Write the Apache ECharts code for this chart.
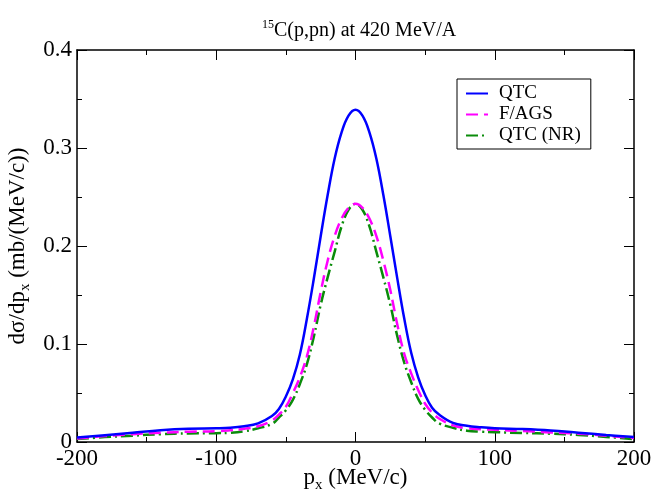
<!DOCTYPE html>
<html><head><meta charset="utf-8">
<script src="https://cdn.jsdelivr.net/npm/echarts@6/dist/echarts.min.js"></script>
<style>html,body{margin:0;padding:0;background:#fff}#c{width:653px;height:495px}</style>
</head><body><div id="c"></div>
<script>
const px = [-200,-180,-160,-140,-120,-100,-90,-80,-70,-60,-55,-50,-45,-40,-35,-30,-25,-20,-15,-10,-5,0,5,10,15,20,25,30,35,40,45,50,55,60,70,80,90,100,120,140,160,180,200];
const qtc = [0.0045,0.007,0.0095,0.012,0.0135,0.014,0.0145,0.016,0.019,0.0265,0.0337,0.0465,0.064,0.089,0.125,0.166,0.21,0.252,0.289,0.316,0.333,0.339,0.333,0.316,0.289,0.252,0.21,0.167,0.126,0.091,0.066,0.048,0.035,0.028,0.0195,0.0165,0.015,0.014,0.0132,0.0118,0.0095,0.0072,0.005];
const fags = [0.0035,0.006,0.008,0.0095,0.0105,0.011,0.012,0.0135,0.016,0.022,0.028,0.036,0.05,0.066,0.087,0.117,0.153,0.185,0.21,0.228,0.239,0.243,0.239,0.228,0.21,0.185,0.155,0.12,0.09,0.07,0.053,0.039,0.03,0.024,0.017,0.014,0.013,0.0124,0.0112,0.0098,0.0085,0.0065,0.004];
const qtcNR = [0.003,0.005,0.0065,0.008,0.0088,0.009,0.0095,0.011,0.014,0.0185,0.025,0.0323,0.043,0.059,0.079,0.107,0.14,0.168,0.194,0.22,0.237,0.243,0.237,0.22,0.194,0.168,0.14,0.108,0.081,0.061,0.044,0.033,0.025,0.019,0.0145,0.0115,0.0105,0.010,0.0092,0.0085,0.0072,0.0052,0.003];
const xTicks = [-200,-100,0,100,200];
const yTicks = [0,0.1,0.2,0.3,0.4];

const serif = '"Liberation Serif","Times New Roman",serif';
const pair = (ys) => px.map((x,i)=>[x, ys[i]]);
const chart = echarts.init(document.getElementById('c'), null, {renderer:'canvas'});
const axisCommon = {
  axisLine:{show:true, onZero:false, lineStyle:{color:'#000', width:1.5}},
  axisTick:{show:true, inside:true, length:10, lineStyle:{color:'#000', width:1}},
  minorTick:{show:true, splitNumber:2, length:5, lineStyle:{color:'#000', width:1}},
  splitLine:{show:false}
};
chart.setOption({
  animation:false,
  title:{
    text:'{s|15}{t|C(p,pn) at 420 MeV/A}',
    left:257, top:14,
    textStyle:{fontWeight:'normal', rich:{
      s:{fontFamily:serif, fontSize:12, fontWeight:'normal', color:'#000', verticalAlign:'top', lineHeight:22},
      t:{fontFamily:serif, fontSize:20, fontWeight:'normal', color:'#000', verticalAlign:'bottom', lineHeight:22}
    }}
  },
  legend:{
    orient:'vertical', left:457, top:79,
    backgroundColor:'#fff',
    borderColor:'#000', borderWidth:1, borderRadius:0,
    padding:[5,10,4,8],
    itemWidth:22, itemHeight:10, itemGap:2,
    itemStyle:{opacity:0},
    textStyle:{fontFamily:serif, fontSize:19, color:'#000', padding:[0,0,0,6]},
    data:['QTC','F/AGS','QTC (NR)']
  },
  grid:{left:77, right:19, top:50, bottom:53, containLabel:false, outerBoundsMode:'none'},
  xAxis:[
    Object.assign({type:'value', min:-200, max:200, interval:100, position:'bottom',
      name:'{a|p}{b|x}{a| (MeV/c)}', nameLocation:'middle', nameGap:21, nameMoveOverlap:false,
      nameTextStyle:{rich:{
        a:{fontFamily:serif, fontSize:23, color:'#000', lineHeight:30, verticalAlign:'middle'},
        b:{fontFamily:serif, fontSize:15, color:'#000', lineHeight:15, verticalAlign:'bottom'}
      }},
      axisLabel:{show:true, margin:5, fontFamily:serif, fontSize:23, color:'#000',
        formatter:(v)=> xTicks.includes(v) ? String(v) : ''}
    }, axisCommon),
    Object.assign({type:'value', min:-200, max:200, interval:100, position:'top',
      axisLabel:{show:false}}, axisCommon)
  ],
  yAxis:[
    Object.assign({type:'value', min:0, max:0.4, interval:0.1, position:'left',
      name:'{a|dσ/dp}{b|x}{a| (mb/(MeV/c))}', nameLocation:'middle', nameGap:44, nameRotate:90, nameMoveOverlap:false,
      nameTextStyle:{rich:{
        a:{fontFamily:serif, fontSize:23, color:'#000', lineHeight:30, verticalAlign:'middle'},
        b:{fontFamily:serif, fontSize:15, color:'#000', lineHeight:15, verticalAlign:'bottom'}
      }},
      axisLabel:{show:true, margin:5, fontFamily:serif, fontSize:23, color:'#000',
        formatter:(v)=> { const t = yTicks.find(y=>Math.abs(y-v)<1e-9); return t===undefined ? '' : (t===0 ? '0' : t.toFixed(1)); }}
    }, axisCommon),
    Object.assign({type:'value', min:0, max:0.4, interval:0.1, position:'right',
      axisLabel:{show:false}}, axisCommon)
  ],
  series:[
    {name:'QTC', type:'line', data:pair(qtc), smooth:0.4, symbol:'none', showSymbol:false,
      lineStyle:{color:'#0000ff', width:2.5}, itemStyle:{color:'#0000ff'}, z:3},
    {name:'F/AGS', type:'line', data:pair(fags), smooth:0.4, symbol:'none', showSymbol:false,
      lineStyle:{color:'#ff00ff', width:2.5, type:[12,6]}, itemStyle:{color:'#ff00ff'}, z:2},
    {name:'QTC (NR)', type:'line', data:pair(qtcNR), smooth:0.4, symbol:'none', showSymbol:false,
      lineStyle:{color:'#0a8c0a', width:2.5, type:[12,4,2,4]}, itemStyle:{color:'#0a8c0a'}, z:1}
  ]
});
</script></body></html>
